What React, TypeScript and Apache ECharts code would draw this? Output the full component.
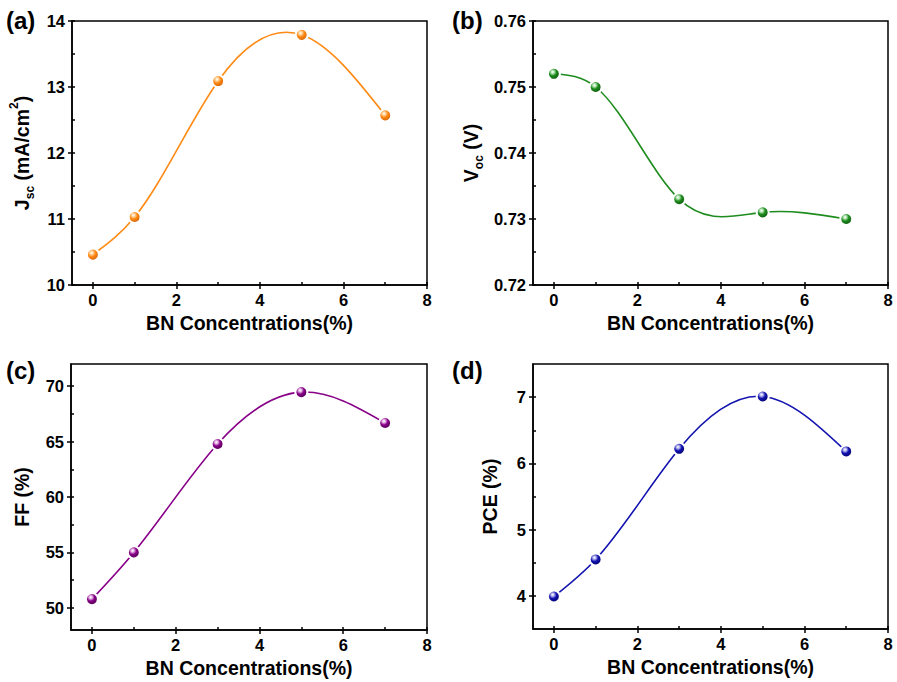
import React, { useEffect, useRef } from 'react';
import * as echarts from 'echarts';

const BN = [0, 1, 3, 5, 7];
const JSC = [10.46, 11.03, 13.09, 13.79, 12.57];
const VOC = [0.752, 0.75, 0.733, 0.731, 0.73];
const FF = [50.79, 55.0, 64.78, 69.46, 66.68];
const PCE = [3.99, 4.55, 6.22, 7.01, 6.18];

const X_MAJOR = [0, 2, 4, 6, 8];
const X_MINOR = [1, 3, 5, 7];
const JSC_MAJOR = [10, 11, 12, 13, 14];
const JSC_MINOR = [10.5, 11.5, 12.5, 13.5];
const VOC_MAJOR = [0.72, 0.73, 0.74, 0.75, 0.76];
const VOC_MINOR = [0.725, 0.735, 0.745, 0.755];
const FF_MAJOR = [50, 55, 60, 65, 70];
const FF_MINOR = [52.5, 57.5, 62.5, 67.5];
const PCE_MAJOR = [4, 5, 6, 7];
const PCE_MINOR = [4.5, 5.5, 6.5];

const FONT = 'Liberation Sans, Arial, Helvetica, sans-serif';
const X_NAME = 'BN Concentrations(%)';

const nameRich = {
  b: { fontSize: 19.5, fontWeight: 'bold', fontFamily: FONT, color: '#000', lineHeight: 28, verticalAlign: 'middle' },
  s: { fontSize: 12, fontWeight: 'bold', fontFamily: FONT, color: '#000', lineHeight: 12, verticalAlign: 'bottom' },
  p: { fontSize: 12, fontWeight: 'bold', fontFamily: FONT, color: '#000', lineHeight: 16, verticalAlign: 'top' },
};

// Natural cubic spline slopes at the knots (used only to shape the connecting curve)
function splineSlopes(xs: number[], ys: number[]): number[] {
  const n = xs.length - 1;
  const h: number[] = [];
  for (let i = 0; i < n; i++) h.push(xs[i + 1] - xs[i]);
  const M = new Array(n + 1).fill(0);
  if (n >= 2) {
    const a: number[] = [], b: number[] = [], c: number[] = [], d: number[] = [];
    for (let i = 1; i < n; i++) {
      a.push(h[i - 1]);
      b.push(2 * (h[i - 1] + h[i]));
      c.push(h[i]);
      d.push(6 * ((ys[i + 1] - ys[i]) / h[i] - (ys[i] - ys[i - 1]) / h[i - 1]));
    }
    const m = b.length;
    for (let i = 1; i < m; i++) {
      const w = a[i] / b[i - 1];
      b[i] -= w * c[i - 1];
      d[i] -= w * d[i - 1];
    }
    const sol = new Array(m).fill(0);
    sol[m - 1] = d[m - 1] / b[m - 1];
    for (let i = m - 2; i >= 0; i--) sol[i] = (d[i] - c[i] * sol[i + 1]) / b[i];
    for (let i = 0; i < m; i++) M[i + 1] = sol[i];
  }
  const slopes: number[] = [];
  for (let i = 0; i <= n; i++) {
    if (i < n) slopes.push((ys[i + 1] - ys[i]) / h[i] - (h[i] * (2 * M[i] + M[i + 1])) / 6);
    else slopes.push((ys[i] - ys[i - 1]) / h[i - 1] + (h[i - 1] * (M[i - 1] + 2 * M[i])) / 6);
  }
  return slopes;
}

type Panel = {
  label: string;
  grid: { left: number; top: number; width: number; height: number };
  yMin: number;
  yMax: number;
  yMajor: number[];
  yMinor: number[];
  yName: string;
  yNameGap: number;
  values: number[];
  color: string;
  dark: string;
  light: string;
  fmt?: (v: number) => string;
  labelPos: [number, number];
};

const panels: Panel[] = [
  {
    label: '(a)',
    grid: { left: 72, top: 21, width: 355, height: 264 },
    yMin: 10, yMax: 14, yMajor: JSC_MAJOR, yMinor: JSC_MINOR,
    yName: '{b|J}{s|sc}{b| (mA/cm}{p|2}{b|)}', yNameGap: 36,
    values: JSC, color: '#FF8A14', dark: '#C85A00', light: '#FFD9A8',
    labelPos: [6, 20],
  },
  {
    label: '(b)',
    grid: { left: 533, top: 21, width: 355, height: 264 },
    yMin: 0.72, yMax: 0.76, yMajor: VOC_MAJOR, yMinor: VOC_MINOR,
    yName: '{b|V}{s|oc}{b| (V)}', yNameGap: 48,
    values: VOC, color: '#1E8C1E', dark: '#0A500A', light: '#B8E8B8',
    fmt: (v: number) => v.toFixed(2),
    labelPos: [452, 20],
  },
  {
    label: '(c)',
    grid: { left: 71, top: 364, width: 356, height: 266 },
    yMin: 48, yMax: 72, yMajor: FF_MAJOR, yMinor: FF_MINOR,
    yName: '{b|FF (%)}', yNameGap: 35,
    values: FF, color: '#880088', dark: '#4A004A', light: '#E8B8E8',
    labelPos: [6, 370],
  },
  {
    label: '(d)',
    grid: { left: 533, top: 364, width: 355, height: 265 },
    yMin: 3.5, yMax: 7.5, yMajor: PCE_MAJOR, yMinor: PCE_MINOR,
    yName: '{b|PCE (%)}', yNameGap: 29,
    values: PCE, color: '#1212B0', dark: '#000060', light: '#B8B8F0',
    labelPos: [452, 370],
  },
];

function buildOption() {
  const grid: any[] = [];
  const xAxis: any[] = [];
  const yAxis: any[] = [];
  const series: any[] = [];
  const graphic: any[] = [];

  panels.forEach((p, i) => {
    grid.push({
      ...p.grid,
      show: true,
      borderColor: '#000',
      borderWidth: 1.5,
      backgroundColor: 'transparent',
    });
    xAxis.push({
      type: 'value', gridIndex: i, min: -0.5, max: 8, position: 'bottom',
      name: X_NAME, nameLocation: 'middle', nameGap: 28,
      nameTextStyle: { fontSize: 19.5, fontWeight: 'bold', fontFamily: FONT, color: '#000' },
      axisLine: { show: true, onZero: false, lineStyle: { color: '#000', width: 1.5 } },
      axisTick: { show: true, inside: false, length: 4, customValues: X_MAJOR, lineStyle: { color: '#000', width: 1.5 } },
      axisLabel: { show: true, margin: 6, customValues: X_MAJOR, fontSize: 16.5, fontWeight: 'bold', fontFamily: FONT, color: '#000' },
      splitLine: { show: false },
    });
    xAxis.push({
      type: 'value', gridIndex: i, min: -0.5, max: 8, position: 'bottom',
      axisLine: { show: false, onZero: false },
      axisTick: { show: true, inside: true, length: 3, customValues: [...X_MAJOR, ...X_MINOR], lineStyle: { color: '#000', width: 1.5 } },
      axisLabel: { show: false },
      splitLine: { show: false },
    });
    yAxis.push({
      type: 'value', gridIndex: i, min: p.yMin, max: p.yMax, position: 'left',
      name: p.yName, nameLocation: 'middle', nameGap: p.yNameGap, nameRotate: 90,
      nameTextStyle: { fontSize: 19.5, fontWeight: 'bold', fontFamily: FONT, color: '#000', rich: nameRich },
      axisLine: { show: true, onZero: false, lineStyle: { color: '#000', width: 1.5 } },
      axisTick: { show: true, inside: false, length: 4, customValues: p.yMajor, lineStyle: { color: '#000', width: 1.5 } },
      axisLabel: {
        show: true, margin: 7, customValues: p.yMajor, fontSize: 16.5, fontWeight: 'bold', fontFamily: FONT, color: '#000',
        formatter: p.fmt ? (v: number) => p.fmt!(v) : (v: number) => String(v),
      },
      splitLine: { show: false },
    });
    yAxis.push({
      type: 'value', gridIndex: i, min: p.yMin, max: p.yMax, position: 'left',
      axisLine: { show: false, onZero: false },
      axisTick: { show: true, inside: true, length: 3, customValues: [...p.yMajor, ...p.yMinor], lineStyle: { color: '#000', width: 1.5 } },
      axisLabel: { show: false },
      splitLine: { show: false },
    });

    const data = BN.map((x, k) => [x, p.values[k]]);
    const slopes = splineSlopes(BN, p.values);

    // smooth connecting curve (spline through the measured points)
    series.push({
      type: 'custom',
      xAxisIndex: 2 * i,
      yAxisIndex: 2 * i,
      data,
      encode: { x: 0, y: 1 },
      silent: true,
      z: 2,
      renderItem: (params: any, api: any) => {
        const k = params.dataIndex;
        if (k >= BN.length - 1) return null;
        const x0 = BN[k], x1 = BN[k + 1];
        const y0 = p.values[k], y1 = p.values[k + 1];
        const hh = x1 - x0;
        const P0 = api.coord([x0, y0]);
        const P1 = api.coord([x0 + hh / 3, y0 + (hh * slopes[k]) / 3]);
        const P2 = api.coord([x1 - hh / 3, y1 - (hh * slopes[k + 1]) / 3]);
        const P3 = api.coord([x1, y1]);
        return {
          type: 'bezierCurve',
          shape: {
            x1: P0[0], y1: P0[1],
            cpx1: P1[0], cpy1: P1[1],
            cpx2: P2[0], cpy2: P2[1],
            x2: P3[0], y2: P3[1],
          },
          style: { stroke: p.color, fill: 'none', lineWidth: 1.6 },
        };
      },
    });

    series.push({
      type: 'scatter',
      xAxisIndex: 2 * i,
      yAxisIndex: 2 * i,
      data,
      symbol: 'circle',
      symbolSize: 12,
      itemStyle: {
        color: {
          type: 'radial', x: 0.4, y: 0.35, r: 0.7,
          colorStops: [
            { offset: 0, color: '#FFFFFF' },
            { offset: 0.18, color: p.light },
            { offset: 0.45, color: p.color },
            { offset: 1, color: p.dark },
          ],
        },
        borderColor: '#FFFFFF',
        borderWidth: 2,
        opacity: 1,
      },
      z: 3,
    });

    graphic.push({
      type: 'text',
      x: p.labelPos[0],
      y: p.labelPos[1],
      style: {
        text: p.label,
        fontSize: 24,
        fontWeight: 'bold',
        fontFamily: FONT,
        fill: '#000',
        verticalAlign: 'middle',
        align: 'left',
      },
    });
  });

  return {
    animation: false,
    backgroundColor: '#FFFFFF',
    grid, xAxis, yAxis, series, graphic,
  };
}

export default function App() {
  const ref = useRef<HTMLDivElement>(null);
  useEffect(() => {
    if (!ref.current) return;
    const chart = echarts.init(ref.current, undefined, { renderer: 'svg' });
    chart.setOption(buildOption() as any);
    return () => chart.dispose();
  }, []);
  return (
    <div
      ref={ref}
      style={{ position: 'fixed', left: 0, top: 0, width: 897, height: 682, background: '#fff' }}
    />
  );
}
